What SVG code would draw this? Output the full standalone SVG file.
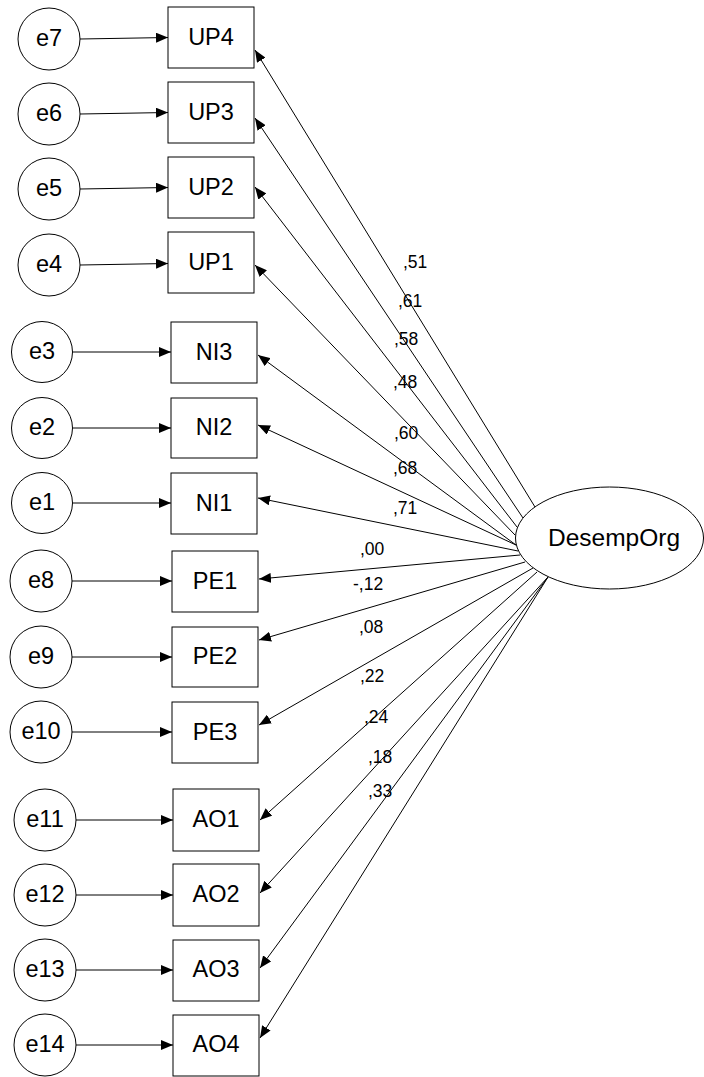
<svg xmlns="http://www.w3.org/2000/svg" width="704" height="1077" viewBox="0 0 704 1077">
  <defs>
    <marker id="arrow" markerUnits="userSpaceOnUse" markerWidth="12" markerHeight="10" refX="12" refY="5" orient="auto">
      <path d="M0,0 L12,5 L0,10 z" fill="#000"/>
    </marker>
    <style>
      .box { fill: #fff; stroke: #000; stroke-width: 1; }
      .err { fill: #fff; stroke: #000; stroke-width: 1; }
      .lat { fill: #fff; stroke: #000; stroke-width: 1; }
      .lbl { font-family: "Liberation Sans", Arial, sans-serif; font-size: 23.5px; text-anchor: middle; fill: #000; }
      .big { font-family: "Liberation Sans", Arial, sans-serif; font-size: 24.5px; text-anchor: middle; fill: #000; }
      .coef { font-family: "Liberation Sans", Arial, sans-serif; font-size: 17.5px; fill: #000; }
      .path { fill: none; stroke: #000; stroke-width: 1; marker-end: url(#arrow); }
    </style>
  </defs>
  <rect width="704" height="1077" fill="#fff"/>

  <!-- connectors: error terms to indicators, latent factor to indicators -->
  <g id="connectors">
    <line class="path" x1="80" y1="39" x2="168" y2="37.5"/>
    <line class="path" x1="80" y1="114" x2="168" y2="112.5"/>
    <line class="path" x1="80" y1="189" x2="168" y2="187.5"/>
    <line class="path" x1="80" y1="265" x2="168" y2="263.5"/>
    <line class="path" x1="73" y1="352" x2="171" y2="352"/>
    <line class="path" x1="73" y1="428" x2="171" y2="428"/>
    <line class="path" x1="73" y1="503" x2="171" y2="503"/>
    <line class="path" x1="72" y1="581" x2="172" y2="581"/>
    <line class="path" x1="72" y1="657" x2="172" y2="657"/>
    <line class="path" x1="72" y1="732" x2="172" y2="732"/>
    <line class="path" x1="76" y1="820" x2="173" y2="820"/>
    <line class="path" x1="76" y1="895" x2="173" y2="895"/>
    <line class="path" x1="76" y1="970" x2="173" y2="970"/>
    <line class="path" x1="76" y1="1045" x2="173" y2="1045"/>

    <line class="path" x1="535" y1="507" x2="255" y2="50"/>
    <line class="path" x1="523" y1="518" x2="255" y2="118"/>
    <line class="path" x1="517" y1="527" x2="255" y2="187"/>
    <line class="path" x1="515" y1="535" x2="255" y2="265"/>
    <line class="path" x1="516" y1="545" x2="258" y2="355"/>
    <line class="path" x1="516" y1="545" x2="258" y2="425"/>
    <line class="path" x1="518" y1="551" x2="258" y2="498"/>
    <line class="path" x1="520" y1="555" x2="259" y2="579"/>
    <line class="path" x1="525" y1="562" x2="259" y2="640"/>
    <line class="path" x1="533" y1="568" x2="259" y2="725"/>
    <line class="path" x1="537" y1="572" x2="260" y2="820"/>
    <line class="path" x1="548" y1="577" x2="260" y2="893"/>
    <line class="path" x1="548" y1="577" x2="260" y2="968"/>
    <line class="path" x1="548" y1="577" x2="260" y2="1038"/>
  </g>

  <!-- standardized loadings -->
  <g id="loadings">
    <text class="coef" x="403" y="268">,51</text>
    <text class="coef" x="398" y="307">,61</text>
    <text class="coef" x="394" y="345">,58</text>
    <text class="coef" x="393" y="388">,48</text>
    <text class="coef" x="394" y="439">,60</text>
    <text class="coef" x="393" y="474">,68</text>
    <text class="coef" x="393" y="514">,71</text>
    <text class="coef" x="360" y="555">,00</text>
    <text class="coef" x="353" y="590">-,12</text>
    <text class="coef" x="359" y="633">,08</text>
    <text class="coef" x="360" y="682">,22</text>
    <text class="coef" x="364" y="723">,24</text>
    <text class="coef" x="368" y="763">,18</text>
    <text class="coef" x="368" y="797">,33</text>
  </g>

  <!-- latent factor -->
  <g id="DesempOrg">
    <ellipse class="lat" cx="609.5" cy="538" rx="94" ry="51"/>
    <text class="big" x="614" y="546">DesempOrg</text>
  </g>

  <!-- observed indicators -->
  <g id="UP4"><rect class="box" x="168" y="7" width="86" height="61"/><text class="lbl" x="211" y="45">UP4</text></g>
  <g id="UP3"><rect class="box" x="168" y="82" width="86" height="61"/><text class="lbl" x="211" y="120">UP3</text></g>
  <g id="UP2"><rect class="box" x="168" y="157" width="86" height="61"/><text class="lbl" x="211" y="195">UP2</text></g>
  <g id="UP1"><rect class="box" x="168" y="232" width="86" height="61"/><text class="lbl" x="211" y="270">UP1</text></g>
  <g id="NI3"><rect class="box" x="171" y="322" width="86" height="61"/><text class="lbl" x="214" y="360">NI3</text></g>
  <g id="NI2"><rect class="box" x="171" y="398" width="86" height="60"/><text class="lbl" x="214" y="435">NI2</text></g>
  <g id="NI1"><rect class="box" x="171" y="473" width="86" height="61"/><text class="lbl" x="214" y="511">NI1</text></g>
  <g id="PE1"><rect class="box" x="172" y="551" width="86" height="61"/><text class="lbl" x="215" y="589">PE1</text></g>
  <g id="PE2"><rect class="box" x="172" y="627" width="86" height="60"/><text class="lbl" x="215" y="664">PE2</text></g>
  <g id="PE3"><rect class="box" x="172" y="702" width="86" height="61"/><text class="lbl" x="215" y="740">PE3</text></g>
  <g id="AO1"><rect class="box" x="173" y="789" width="86" height="62"/><text class="lbl" x="216" y="827">AO1</text></g>
  <g id="AO2"><rect class="box" x="173" y="864" width="86" height="62"/><text class="lbl" x="216" y="902">AO2</text></g>
  <g id="AO3"><rect class="box" x="173" y="940" width="86" height="61"/><text class="lbl" x="216" y="977">AO3</text></g>
  <g id="AO4"><rect class="box" x="173" y="1015" width="86" height="61"/><text class="lbl" x="216" y="1052">AO4</text></g>

  <!-- error terms -->
  <g id="e7"><circle class="err" cx="49" cy="39" r="31"/><text class="lbl" x="49" y="46">e7</text></g>
  <g id="e6"><circle class="err" cx="49" cy="114" r="31"/><text class="lbl" x="49" y="121">e6</text></g>
  <g id="e5"><circle class="err" cx="49" cy="189" r="31"/><text class="lbl" x="49" y="196">e5</text></g>
  <g id="e4"><circle class="err" cx="49" cy="265" r="31"/><text class="lbl" x="49" y="272">e4</text></g>
  <g id="e3"><circle class="err" cx="42" cy="352" r="30.5"/><text class="lbl" x="42" y="359">e3</text></g>
  <g id="e2"><circle class="err" cx="42" cy="428" r="30.5"/><text class="lbl" x="42" y="435">e2</text></g>
  <g id="e1"><circle class="err" cx="42" cy="503" r="30.5"/><text class="lbl" x="42" y="510">e1</text></g>
  <g id="e8"><circle class="err" cx="41" cy="581" r="31"/><text class="lbl" x="41" y="588">e8</text></g>
  <g id="e9"><circle class="err" cx="41" cy="657" r="31"/><text class="lbl" x="41" y="664">e9</text></g>
  <g id="e10"><circle class="err" cx="41" cy="732" r="31"/><text class="lbl" x="41" y="739">e10</text></g>
  <g id="e11"><circle class="err" cx="45" cy="820" r="31"/><text class="lbl" x="45" y="827">e11</text></g>
  <g id="e12"><circle class="err" cx="45" cy="895" r="31"/><text class="lbl" x="45" y="902">e12</text></g>
  <g id="e13"><circle class="err" cx="45" cy="970" r="31"/><text class="lbl" x="45" y="977">e13</text></g>
  <g id="e14"><circle class="err" cx="45" cy="1045" r="31"/><text class="lbl" x="45" y="1052">e14</text></g>
</svg>
